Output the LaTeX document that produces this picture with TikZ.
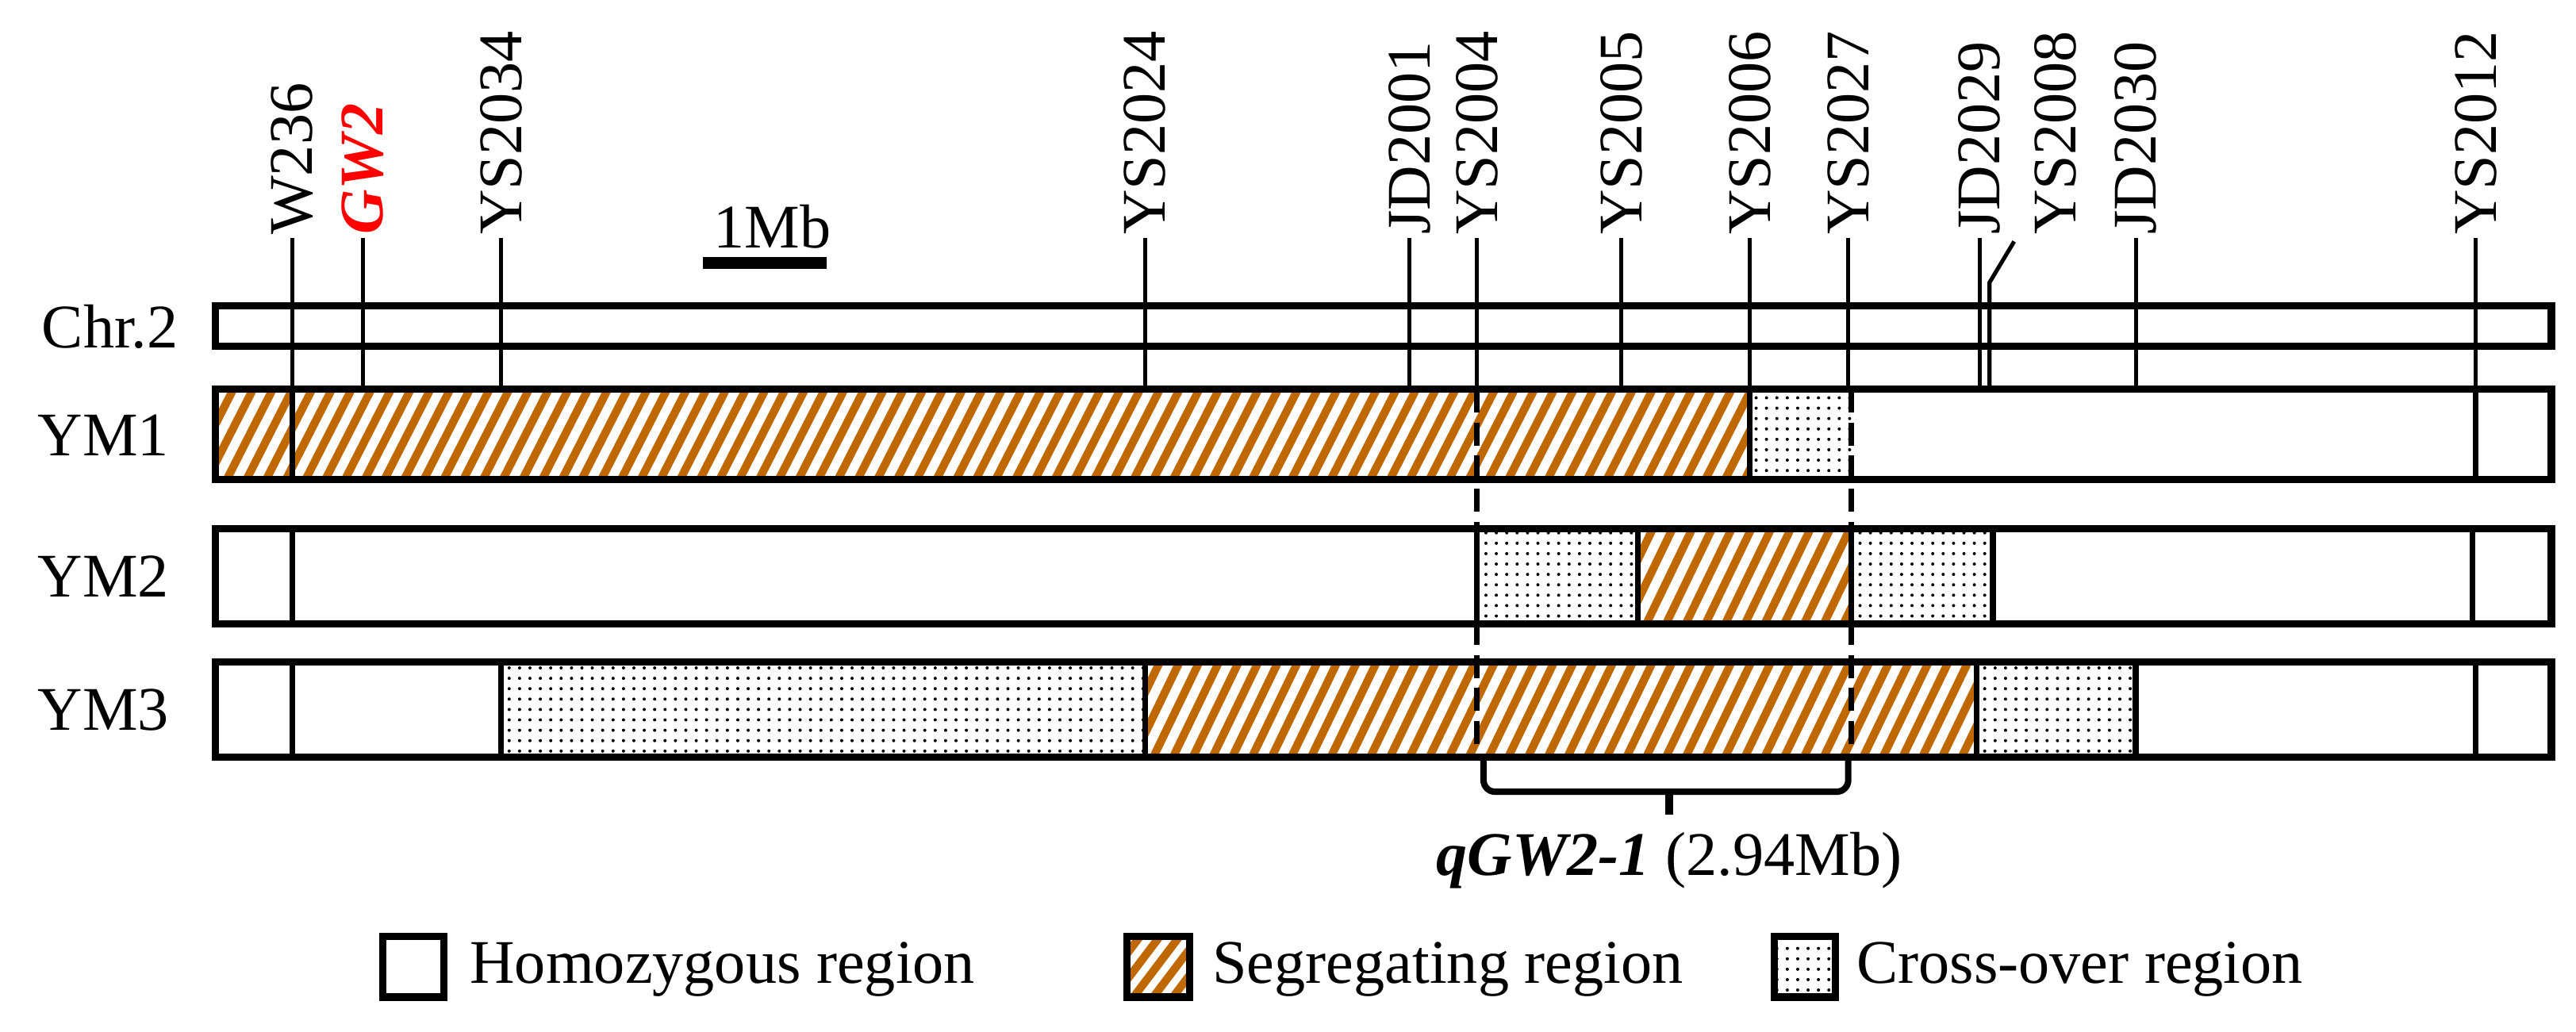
\documentclass[tikz,border=0pt]{standalone}
\usepackage{fontspec}
\setmainfont{Liberation Serif}
\usetikzlibrary{patterns}
\definecolor{hatchorange}{RGB}{192,104,0}
\pgfdeclarepatternformonly{crossover dots}{\pgfqpoint{-1pt}{-1pt}}{\pgfqpoint{4pt}{4pt}}{\pgfqpoint{3.6pt}{3.6pt}}%
  {\pgfpathcircle{\pgfqpoint{0pt}{0pt}}{0.55pt}\pgfusepath{fill}}
\tikzstyle{bar}=[draw=black, line width=2.5pt]
\tikzstyle{divider}=[line width=2pt]
\tikzstyle{marker}=[line width=1.4pt]
\tikzstyle{dotted region}=[pattern=crossover dots, pattern color=black]
\tikzstyle{label}=[font=\fontsize{21.5}{24}\selectfont, inner sep=1pt]
\tikzset{hatchline/.style={hatchorange, line width=2.8pt}}
% segregating region: clipped orange stripes
\newcommand{\segregating}[4]{%
  \begin{scope}
    \clip (#1,#3) rectangle (#2,#4);
    \foreach \s in {90,102,...,1570}
      \draw[hatchline] (\s,#4) -- (\s+28,#3);
  \end{scope}}
\begin{document}
\begin{tikzpicture}[x=0.02cm, y=-0.02cm]
        \useasboundingbox (0,0) rectangle (1568,628);

        % Row labels
        \node[label] (chr) at (67,199) {Chr.2};
        \node[label] (ym1) at (63,265) {YM1};
        \node[label] (ym2) at (63,351) {YM2};
        \node[label] (ym3) at (63,432) {YM3};

        % Markers
        \foreach \x/\name in {178/W236, 305/YS2034, 697/YS2024, 858/JD2001,
                             899/YS2004, 987/YS2005, 1065/YS2006, 1125/YS2027,
                             1205/JD2029, 1300/JD2030, 1507/YS2012}
          {
          \node[label, rotate=90, anchor=west] (m_\name) at (\x,145) {\name};
          \draw[marker] (m_\name.west) -- (\x,237);
          }
        \node[label, rotate=90, anchor=west, text=red, font=\fontsize{21.5}{24}\selectfont\bfseries\itshape]
          (m_GW2) at (221,145) {GW2};
        \draw[marker] (m_GW2.west) -- (221,237);
        \node[label, rotate=90, anchor=west] (m_YS2008) at (1251,145) {YS2008};
        \coordinate (bend_YS2008) at (1211,172);
        \draw[marker] (1226,147) -- (bend_YS2008) -- (1211,237);

        % Scale bar
        \node[label] (scale) at (470,138) {1Mb};
        \draw[line width=4pt] (428,160) -- (503,160);

        % Chr.2
        \draw[bar] (131,186) rectangle (1553,211);

        % YM1
        \segregating{131}{1065}{237}{292}
        \fill[dotted region] (1065,237) rectangle (1127,292);
        \draw[bar] (131,237) rectangle (1553,292);
        \foreach \x in {178,1065,1507}
          \draw[divider] (\x,237) -- (\x,292);

        % YM2
        \fill[dotted region] (899,322) rectangle (997,380);
        \segregating{997}{1127}{322}{380}
        \fill[dotted region] (1127,322) rectangle (1213,380);
        \draw[bar] (131,322) rectangle (1553,380);
        \foreach \x in {178,899,997,1127,1213,1505}
          \draw[divider] (\x,322) -- (\x,380);

        % YM3
        \fill[dotted region] (305,403) rectangle (697,461);
        \segregating{697}{1203}{403}{461}
        \fill[dotted region] (1203,403) rectangle (1300,461);
        \draw[bar] (131,403) rectangle (1553,461);
        \foreach \x in {178,305,697,1203,1300,1507}
          \draw[divider] (\x,403) -- (\x,461);

        % QTL interval
        \foreach \x in {899,1127}
          \draw[divider, dash pattern=on 8pt off 3.5pt] (\x,237) -- (\x,461);
        \draw[line width=2.2pt, rounded corners=4pt]
          (903,461) -- (903,482) -- (1125,482) -- (1125,461);
        \draw[line width=2.6pt] (1016,482) -- (1016,496);
        \node[label] (qtl) at (1016,524) {\textbf{\textit{qGW2-1}} (2.94Mb)};

        % Legend
        \draw[bar] (233,570) rectangle (270,607);
        \node[label, anchor=west] (leg_hom) at (284,590) {Homozygous region};
        \segregating{686}{724}{570}{607}
        \draw[bar] (686,570) rectangle (724,607);
        \node[label, anchor=west] (leg_seg) at (736,590) {Segregating region};
        \fill[dotted region] (1080,570) rectangle (1117,607);
        \draw[bar] (1080,570) rectangle (1117,607);
        \node[label, anchor=west] (leg_cross) at (1128,590) {Cross-over region};
      \end{tikzpicture}
\end{document}
